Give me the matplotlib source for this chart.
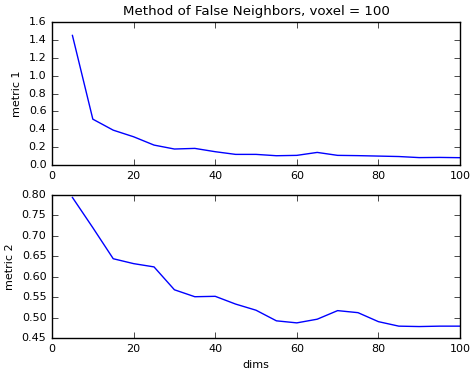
import matplotlib
matplotlib.use('Agg')
import matplotlib.pyplot as plt

# dimensions tested
dims = [5, 10, 15, 20, 25, 30, 35, 40, 45, 50, 55, 60, 65, 70, 75, 80, 85, 90, 95, 100]

# metric values
metric1 = [1.45, 0.513, 0.39, 0.316, 0.223, 0.179, 0.186, 0.149, 0.119, 0.119,
	0.104, 0.108, 0.141, 0.108, 0.105, 0.10, 0.095, 0.083, 0.085, 0.082]
metric2 = [0.794, 0.72, 0.644, 0.632, 0.624, 0.568, 0.551, 0.552, 0.533, 0.518,
	0.492, 0.487, 0.496, 0.517, 0.512, 0.490, 0.479, 0.478, 0.479, 0.479]

plt.style.use('classic')
plt.rcParams['font.size'] = 8
plt.rcParams['axes.titlesize'] = 'large'

fig = plt.figure(figsize=(4.73, 3.70), dpi=100)
ax1 = fig.add_axes([0.110, 0.554, 0.8625, 0.3865])
ax2 = fig.add_axes([0.110, 0.0865, 0.8625, 0.3865])

ax1.plot(dims, metric1, 'b')
ax1.set_xlim(0, 100)
ax1.set_ylim(0, 1.6)
ax1.set_ylabel('metric 1')
ax1.set_title('Method of False Neighbors, voxel = 100')

ax2.plot(dims, metric2, 'b')
ax2.set_xlim(0, 100)
ax2.set_ylim(0.45, 0.80)
ax2.set_ylabel('metric 2')
ax2.set_xlabel('dims')

fig.savefig('out.png', dpi=100)
